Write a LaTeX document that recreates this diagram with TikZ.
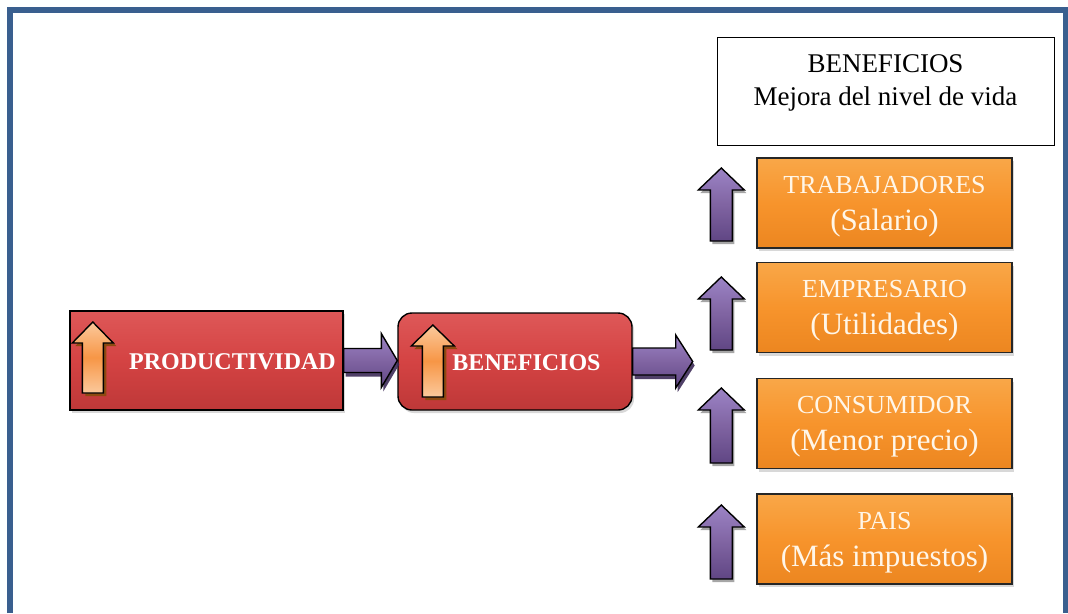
\documentclass[tikz,border=0pt]{standalone}
\usepackage{fontspec}
\setmainfont{Liberation Serif}
\usetikzlibrary{calc,shadows}
\definecolor{frameblue}{HTML}{3A5F8F}
\definecolor{redA}{HTML}{DE5858}
\definecolor{redB}{HTML}{D44343}
\definecolor{redC}{HTML}{BE3838}
\definecolor{orA}{HTML}{F9A748}
\definecolor{orB}{HTML}{F7942C}
\definecolor{orC}{HTML}{EC8620}
\definecolor{ortext}{HTML}{FFF6E8}
\definecolor{puA}{HTML}{9C84C6}
\definecolor{puB}{HTML}{8064A2}
\definecolor{puC}{HTML}{604684}
\definecolor{puS}{HTML}{3E2C58}
\definecolor{peach}{HTML}{FBC99C}
\definecolor{orMid}{HTML}{F79646}
\definecolor{brownS}{HTML}{8E4A10}
\newcommand\upblk[6]{%
  \path[#2] let \p1=(#1) in
    (\x1-#4pt,\y1) -- (\x1-#4pt,\y1+#6pt-#5pt) -- (\x1-#3pt,\y1+#6pt-#5pt) --
    (\x1,\y1+#6pt) -- (\x1+#3pt,\y1+#6pt-#5pt) -- (\x1+#4pt,\y1+#6pt-#5pt) --
    (\x1+#4pt,\y1) -- cycle;}
\newcommand\harrow[5]{%
  \path[hpurp] let \p1=(#1), \p2=(#2) in
    (\x1,\y1+#3pt) -- (\x2-#5pt,\y1+#3pt) -- (\x2-#5pt,\y1+#4pt) -- (\x2,\y1) --
    (\x2-#5pt,\y1-#4pt) -- (\x2-#5pt,\y1-#3pt) -- (\x1,\y1-#3pt) -- cycle;}
\tikzset{
  redbox/.style={draw=black, line width=1.4pt, top color=redA, bottom color=redC,
    middle color=redB, drop shadow={opacity=0.3, shadow xshift=2pt, shadow yshift=-3pt},
    inner sep=0pt},
  obox/.style={draw=black!85, line width=1.4pt, top color=orA, bottom color=orC,
    middle color=orB, drop shadow={opacity=0.3, shadow xshift=2pt, shadow yshift=-3pt},
    minimum width=255pt, minimum height=90pt, inner sep=0pt, align=center,
    text=ortext, font=\fontsize{31}{37}\selectfont},
  lbl/.style={text=white, font=\fontsize{24}{28}\selectfont\bfseries},
  purparrow/.style={draw=black, line width=1.4pt, top color=puA, bottom color=puC,
    middle color=puB, drop shadow={fill=black, opacity=0.35, shadow xshift=2pt, shadow yshift=-3pt}},
  hpurp/.style={draw=black, line width=1.4pt, top color=puA, bottom color=puC,
    middle color=puB, drop shadow={fill=puS, opacity=0.9, shadow xshift=2pt, shadow yshift=-4pt}},
  orarrow/.style={draw=black, line width=1.4pt, top color=peach, bottom color=peach,
    middle color=orMid, drop shadow={fill=brownS, opacity=1, shadow xshift=3pt, shadow yshift=-3pt}},
  topbox/.style={draw=black, line width=1pt, fill=white, minimum width=337pt,
    minimum height=108pt, inner sep=0pt}
}
\newcommand\twol[2]{\rule{0pt}{24.5pt}{\fontsize{26}{37}\selectfont #1}\\#2}
\begin{document}
\begin{tikzpicture}[x=1pt,y=-1pt]
\useasboundingbox (0,0) rectangle (1068,613);
\fill[white] (0,0) rectangle (1068,613);
\draw[frameblue, line width=6pt] (10,613) -- (10,10) -- (1065.5,10) -- (1065.5,613);

% top box
\node[topbox, label={[align=center, font=\fontsize{27}{33}\selectfont, yshift=8pt]center:BENEFICIOS\\Mejora del nivel de vida}] (top) at (885.5,91) {};

% left boxes
\node[redbox, minimum width=273pt, minimum height=99pt,
  label={[lbl, xshift=26pt, yshift=-1.5pt]center:PRODUCTIVIDAD}] (prod) at (206.5,360.5) {};
\node[redbox, rounded corners=14pt, minimum width=234pt, minimum height=97pt,
  label={[lbl, xshift=11.5pt, yshift=-1.5pt]center:BENEFICIOS}] (ben) at (515,361.5) {};

\coordinate (pa) at ($(prod.west)+(23.5,32.5)$);
\coordinate (ba) at ($(ben.west)+(35.5,35.5)$);
\upblk{pa}{orarrow}{20.5}{10.5}{21}{71}
\upblk{ba}{orarrow}{21.5}{10.5}{21}{72}

% right boxes
\node[obox] (trab) at (884.5,203) {\twol{TRABAJADORES}{(Salario)}};
\node[obox] (emp) at (884.5,307.5) {\twol{EMPRESARIO}{(Utilidades)}};
\node[obox] (cons) at (884.5,423.5) {\twol{CONSUMIDOR}{(Menor precio)}};
\node[obox] (pais) at (884.5,539) {\twol{PAIS}{(Más impuestos)}};

% purple up arrows
\coordinate (u1) at ($(trab.west)+(-35,38)$);
\coordinate (u2) at ($(emp.west)+(-35,42.5)$);
\coordinate (u3) at ($(cons.west)+(-35,39.5)$);
\coordinate (u4) at ($(pais.west)+(-35,40)$);
\upblk{u1}{purparrow}{23}{11}{22}{73}
\upblk{u2}{purparrow}{23}{11}{22}{73}
\upblk{u3}{purparrow}{23}{11}{22}{75}
\upblk{u4}{purparrow}{23}{11}{22}{74}

% connectors
\harrow{prod.east}{ben.west}{12}{27}{16}
\coordinate (tip2) at ($(ben.east)+(60,0)$);
\harrow{ben.east}{tip2}{13.5}{26.5}{17}
\end{tikzpicture}
\end{document}
